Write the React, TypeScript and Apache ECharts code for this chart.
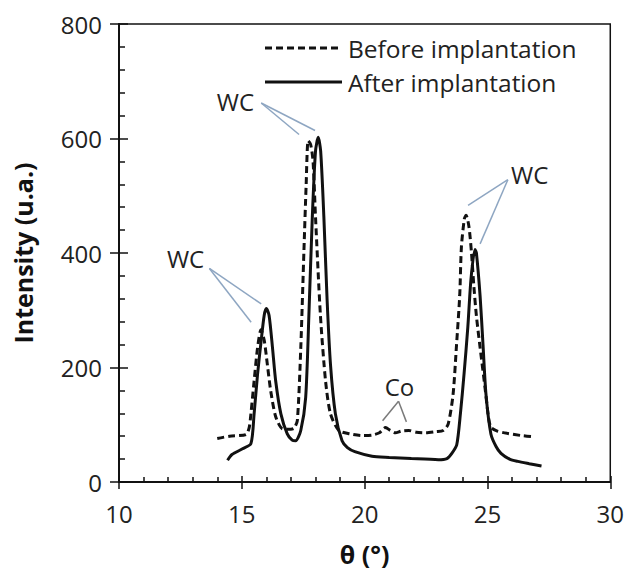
import React, { useEffect, useRef } from "react";
import * as echarts from "echarts";

const FONT = "'Open Sans', 'Noto Sans', sans-serif";

// Before implantation (dashed)
const beforeTheta = [14.0, 14.5, 15.17, 15.3, 15.37, 15.5, 15.64, 15.78, 15.91, 16.04, 16.18, 16.38, 16.65, 17.0, 17.13, 17.26, 17.4, 17.53, 17.62, 17.7, 17.8, 17.9, 18.0, 18.2, 18.41, 18.61, 18.95, 19.4, 19.9, 20.3, 20.6, 20.85, 21.05, 21.25, 21.5, 21.8, 22.1, 22.5, 22.9, 23.2, 23.4, 23.6, 23.74, 23.87, 23.94, 24.06, 24.13, 24.25, 24.35, 24.45, 24.55, 24.7, 24.9, 25.05, 25.15, 25.4, 25.8, 26.4, 26.85];
const beforeIntensity = [76, 80, 83, 95, 119, 176, 234, 266, 248, 205, 158, 114, 93, 92, 94, 107, 234, 406, 520, 596, 590, 560, 463, 291, 176, 119, 90, 84, 81, 82, 86, 95, 90, 86, 89, 90, 87, 86, 88, 90, 101, 153, 239, 325, 411, 460, 466, 445, 400, 340, 290, 235, 165, 110, 95, 89, 85, 81, 79];

// After implantation (solid)
const afterTheta = [14.42, 14.6, 15.03, 15.37, 15.5, 15.64, 15.78, 15.91, 16.0, 16.11, 16.25, 16.38, 16.59, 16.85, 17.05, 17.19, 17.4, 17.6, 17.73, 17.87, 18.0, 18.11, 18.21, 18.34, 18.47, 18.61, 18.81, 19.08, 19.3, 19.6, 20.3, 21.0, 21.9, 23.0, 23.35, 23.55, 23.75, 23.9, 24.05, 24.2, 24.33, 24.49, 24.55, 24.7, 24.82, 24.94, 25.14, 25.35, 25.55, 25.9, 26.23, 26.7, 27.2];
const afterIntensity = [38, 48, 58, 67, 119, 188, 244, 291, 303, 291, 234, 176, 119, 84, 73, 72, 90, 148, 291, 463, 578, 602, 578, 463, 320, 205, 119, 72, 60, 53, 45, 43, 41, 39, 41, 50, 65, 120, 190, 270, 355, 406, 400, 325, 239, 153, 84, 62, 50, 40, 36, 32, 28];

const seriesNames = ["Before implantation", "After implantation"];

// Annotations (data coordinates): label, label position, line start, line ends
const annoLabels = ["WC", "WC", "WC", "Co"];
const annoText = [[12.71, 390], [14.74, 664], [26.72, 537], [21.42, 167]];
const annoFrom = [[13.68, 373], [15.79, 662], [25.83, 528], [21.38, 141]];
const annoTo = [
  [[15.79, 311], [15.38, 279]],
  [[17.33, 607], [17.98, 614]],
  [[24.21, 483], [24.7, 416]],
  [[20.73, 107], [21.7, 105]],
];
const annoColor = ["#8ea6c2", "#8ea6c2", "#8ea6c2", "#7a7a7a"];

function zip(xs: number[], ys: number[]) {
  return xs.map((x, i) => [x, ys[i]]);
}

export default function App() {
  const ref = useRef<HTMLDivElement>(null);
  useEffect(() => {
    if (!ref.current) return;
    const chart = echarts.init(ref.current, undefined, { renderer: "svg" });
    const axisColor = "#111";
    chart.setOption({
      animation: false,
      backgroundColor: "#fff",
      textStyle: { fontFamily: FONT },
      grid: {
        left: 119,
        right: 14,
        top: 24,
        bottom: 82,
        show: true,
        borderColor: axisColor,
        borderWidth: 1.5,
        backgroundColor: "transparent",
      },
      xAxis: [
        {
          type: "value",
          min: 10,
          max: 30,
          interval: 5,
          position: "bottom",
          axisLine: { onZero: false, lineStyle: { color: axisColor, width: 2 } },
          axisTick: { show: true, length: 7, lineStyle: { color: axisColor, width: 1.5 } },
          axisLabel: { fontSize: 24, color: "#222", margin: 19, fontFamily: FONT },
          splitLine: { show: false },
          name: "θ (°)",
          nameLocation: "middle",
          nameGap: 59,
          nameTextStyle: { fontSize: 25, fontWeight: "bold", color: "#111", fontFamily: FONT },
        },
        {
          type: "value",
          min: 10,
          max: 30,
          interval: 5,
          position: "bottom",
          axisLine: { show: false, onZero: false },
          axisTick: { show: true, inside: true, length: 6, lineStyle: { color: axisColor, width: 1.5 } },
          minorTick: { show: true, splitNumber: 5, length: 5, lineStyle: { color: axisColor, width: 1.5 } },
          axisLabel: { show: false },
          splitLine: { show: false },
        },
      ],
      yAxis: [
        {
          type: "value",
          min: 0,
          max: 800,
          interval: 200,
          position: "left",
          axisLine: { show: true, onZero: false, lineStyle: { color: axisColor, width: 2 } },
          axisTick: { show: true, length: 9, lineStyle: { color: axisColor, width: 1.5 } },
          axisLabel: { fontSize: 24, color: "#222", margin: 17, fontFamily: FONT },
          splitLine: { show: false },
          name: "Intensity (u.a.)",
          nameLocation: "middle",
          nameGap: 84,
          nameTextStyle: { fontSize: 25, fontWeight: "bold", color: "#111", fontFamily: FONT },
        },
        {
          type: "value",
          min: 0,
          max: 800,
          interval: 200,
          position: "left",
          axisLine: { show: false, onZero: false },
          axisTick: { show: true, inside: true, length: 9, lineStyle: { color: axisColor, width: 1.5 } },
          minorTick: { show: true, splitNumber: 5, length: 6, lineStyle: { color: axisColor, width: 1.5 } },
          axisLabel: { show: false },
          splitLine: { show: false },
        },
      ],
      series: [
        {
          name: seriesNames[0],
          type: "line",
          data: zip(beforeTheta, beforeIntensity),
          symbol: "none",
          smooth: 0.25,
          lineStyle: { color: "#111", width: 3, type: [7, 4] },
          itemStyle: { color: "#111" },
        },
        {
          name: seriesNames[1],
          type: "line",
          data: zip(afterTheta, afterIntensity),
          symbol: "none",
          smooth: 0.25,
          lineStyle: { color: "#111", width: 3 },
          itemStyle: { color: "#111" },
        },
      ],
    });

    const px = (p: number[]) => chart.convertToPixel({ gridIndex: 0 }, p) as number[];
    const elements: any[] = [];
    annoLabels.forEach((lab, i) => {
      const t = px(annoText[i]);
      elements.push({
        type: "text",
        x: t[0],
        y: t[1],
        style: { text: lab, fontSize: 24, fontFamily: FONT, fill: "#222", align: "center", verticalAlign: "middle" },
      });
      const f = px(annoFrom[i]);
      annoTo[i].forEach((to) => {
        const e = px(to);
        elements.push({
          type: "line",
          shape: { x1: f[0], y1: f[1], x2: e[0], y2: e[1] },
          style: { stroke: annoColor[i], lineWidth: 1.5 },
        });
      });
    });
    // legend
    const legendY = [48, 82];
    const dashes = [[7, 4], null];
    seriesNames.forEach((name, i) => {
      elements.push({
        type: "line",
        shape: { x1: 265, y1: legendY[i], x2: 342, y2: legendY[i] },
        style: { stroke: "#111", lineWidth: 3, lineDash: dashes[i] || undefined },
      });
      elements.push({
        type: "text",
        x: 348,
        y: legendY[i],
        style: { text: name, fontSize: 24.5, fontFamily: FONT, fill: "#222", align: "left", verticalAlign: "middle" },
      });
    });
    chart.setOption({ graphic: elements });

    return () => chart.dispose();
  }, []);
  return <div ref={ref} style={{ width: 627, height: 571, position: "fixed", left: 0, top: 0 }} />;
}
